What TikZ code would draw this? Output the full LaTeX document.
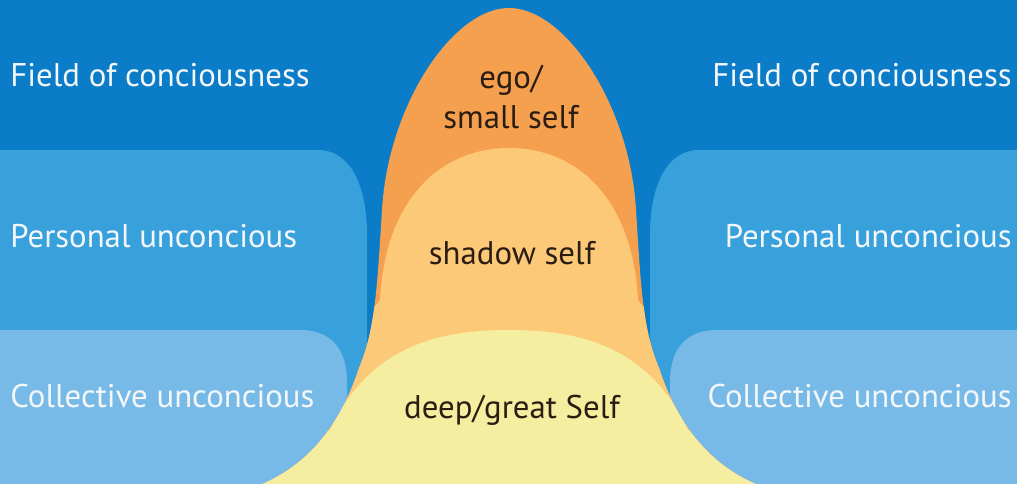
\documentclass[tikz,border=0pt]{standalone}
\usepackage{fontspec}
\setmainfont{PT Sans}
\definecolor{fondo}{HTML}{0A7CC8}
\definecolor{personal}{HTML}{38A1DC}
\definecolor{colectivo}{HTML}{78BAE7}
\definecolor{ego}{HTML}{F5A04F}
\definecolor{sombra}{HTML}{FCC979}
\definecolor{profundo}{HTML}{F5EEA0}
\definecolor{textoclaro}{HTML}{F4F7FA}
\definecolor{textooscuro}{HTML}{2B1D12}
\begin{document}
\begin{tikzpicture}[x={(0.5pt,0pt)}, y={(0pt,-0.5pt)}, every node/.style={font=\fontsize{16.4}{20}\selectfont, inner sep=0pt},
    capa/.style={textoclaro}, yo/.style={textooscuro, align=center}]
    \useasboundingbox (0,0) rectangle (1017,483);
    \clip (0,0) rectangle (1017,483);
    % Fondo y franjas de los dos lados (el derecho es el reflejo del izquierdo).
    \fill[fondo] (0,0) rectangle (1017,483);
    \foreach \lado/\despl in {1/0,-1/1017} {
        \begin{scope}[shift={(\despl,0)}, xscale=\lado]
            \fill[personal] (-20,150) -- (318,150) .. controls (350,150) and (367,185) .. (367,235) -- (367,520) -- (-20,520) -- cycle;
            \fill[colectivo] (-20,330) -- (300,330) .. controls (332,330) and (347,350) .. (347,382) -- (347,440) .. controls (347,470) and (330,483) .. (300,490) -- (-20,490) -- cycle;
        \end{scope}
    }

    % Campana: ego arriba, sombra en medio y el Self profundo en la base.
    \fill[ego] (509,8) .. controls (565,8) and (630,105) .. (636,210) .. controls (641,290) and (643,330) .. (659,368)
        .. controls (676,420) and (708,470) .. (772,490) -- (246,490) .. controls (310,470) and (342,420) .. (359,368)
        .. controls (375,330) and (377,290) .. (382,210) .. controls (388,105) and (453,8) .. (509,8) -- cycle;
    \begin{scope}
        \clip (509,8) .. controls (565,8) and (630,105) .. (636,210) .. controls (641,290) and (643,330) .. (659,368)
            .. controls (676,420) and (708,470) .. (772,490) -- (246,490) .. controls (310,470) and (342,420) .. (359,368)
            .. controls (375,330) and (377,290) .. (382,210) .. controls (388,105) and (453,8) .. (509,8) -- cycle;
        \fill[sombra] (380,300) .. controls (385,200) and (440,148) .. (509,148) .. controls (578,148) and (633,200) .. (638,300)
            -- (800,500) -- (220,500) -- cycle;
        \fill[profundo] (330,430) .. controls (370,345) and (440,330) .. (509,330) .. controls (578,330) and (648,345) .. (688,430)
            -- (800,500) -- (220,500) -- cycle;
    \end{scope}

    \node[yo] (ego) at (511,97) {ego/\\small self};
    \node[yo] (sombra) at (512,253) {shadow self};
    \node[yo] (profundo) at (512,410) {deep/great Self};

    \node[capa, anchor=west] (campoI) at (10,75) {Field of conciousness};
    \node[capa, anchor=west] (personalI) at (10,236) {Personal unconcious};
    \node[capa, anchor=west] (colectivoI) at (10,396) {Collective unconcious};
    \node[capa, anchor=east] (campoD) at (1012,75) {Field of conciousness};
    \node[capa, anchor=east] (personalD) at (1012,236) {Personal unconcious};
    \node[capa, anchor=east] (colectivoD) at (1012,396) {Collective unconcious};
\end{tikzpicture}
\end{document}
